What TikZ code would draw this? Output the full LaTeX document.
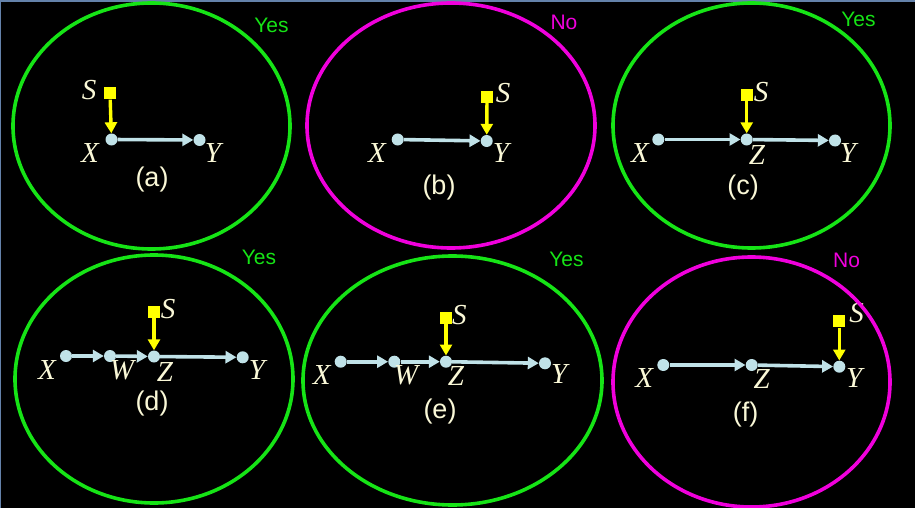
\documentclass[tikz,border=0pt]{standalone}
\usepackage{fontspec}
\setmainfont{Liberation Serif}
\newfontfamily\arialfont{Liberation Sans}
\usetikzlibrary{arrows.meta}
\definecolor{nodeblue}{RGB}{192,226,232}
\definecolor{yel}{RGB}{255,255,0}
\definecolor{cream}{RGB}{250,248,215}
\definecolor{okgreen}{RGB}{22,228,22}
\definecolor{nomag}{RGB}{240,0,220}
\definecolor{framecol}{RGB}{100,130,170}
\tikzset{
  dot/.style={circle, fill=nodeblue, inner sep=0pt, minimum size=12pt},
  sq/.style={rectangle, fill=yel, inner sep=0pt, minimum size=12pt},
  barr/.style={draw=nodeblue, line width=3.6pt, -{Triangle[length=11pt,width=12pt]}},
  yarr/.style={draw=yel, line width=3.4pt, -{Triangle[length=11pt,width=12pt]}},
  var/.style={text=cream, inner sep=0pt, font=\fontsize{29}{32}\selectfont\itshape},
  caplab/.style={text=cream, inner sep=0pt, font=\arialfont\fontsize{27}{31}\selectfont},
  verdict/.style={inner sep=0pt, font=\arialfont\fontsize{21}{25}\selectfont},
  ring/.style={line width=3.6pt},
}
\begin{document}
\begin{tikzpicture}[x=1pt,y=-1pt]
\fill[black] (0,0) rectangle (915,508);
\useasboundingbox (0,0) rectangle (915,508);
\draw[framecol, line width=2pt] (0,508) -- (0,1) -- (915,1);

% (a)
\draw[ring, okgreen] (151.5,126) ellipse [x radius=138.5pt, y radius=123pt];
\node[verdict, text=okgreen] (va) at (271.5,25) {Yes};
\node[dot] (xa) at (111.5,139.5) {};
\node[dot] (ya) at (199.5,140) {};
\node[sq] (sa) at (110,93.5) {};
\draw[barr] (xa) -- (ya);
\draw[yarr] (sa) -- (xa);
\node[var] (lsa) at (89,90) {S};
\node[var] (lxa) at (90,153) {X};
\node[var] (lya) at (213,153) {Y};
\node[caplab] (ca) at (152,180) {(a)};

% (b)
\draw[ring, nomag] (451,125.5) ellipse [x radius=144pt, y radius=122.5pt];
\node[verdict, text=nomag] (vb) at (564,22.5) {No};
\node[dot] (xb) at (397.7,139.5) {};
\node[dot] (yb) at (486.7,141) {};
\node[sq] (sb) at (487,97) {};
\draw[barr] (xb) -- (yb);
\draw[yarr] (sb) -- (yb);
\node[var] (lsb) at (503,93) {S};
\node[var] (lxb) at (377,153) {X};
\node[var] (lyb) at (501,153) {Y};
\node[caplab] (cb) at (439,188) {(b)};

% (c)
\draw[ring, okgreen] (751.5,125.5) ellipse [x radius=138.5pt, y radius=122.5pt];
\node[verdict, text=okgreen] (vc) at (858.5,19) {Yes};
\node[dot] (xc) at (658.3,139.5) {};
\node[dot] (zc) at (746.7,139.5) {};
\node[dot] (yc) at (835,140.5) {};
\node[sq] (sc) at (746.7,95) {};
\draw[barr] (xc) -- (zc);
\draw[barr] (zc) -- (yc);
\draw[yarr] (sc) -- (zc);
\node[var] (lsc) at (761,92) {S};
\node[var] (lxc) at (640,153) {X};
\node[var] (lzc) at (757,155) {Z};
\node[var] (lyc) at (848,153) {Y};
\node[caplab] (cc) at (743,188) {(c)};

% (d)
\draw[ring, okgreen] (154,379) ellipse [x radius=139pt, y radius=124pt];
\node[verdict, text=okgreen] (vd) at (259,257) {Yes};
\node[dot] (xd) at (66,356) {};
\node[dot] (wd) at (110,356) {};
\node[dot] (zd) at (154,356.5) {};
\node[dot] (yd) at (242.7,357.3) {};
\node[sq] (sd) at (154,311.7) {};
\draw[barr] (xd) -- (wd);
\draw[barr] (wd) -- (zd);
\draw[barr] (zd) -- (yd);
\draw[yarr] (sd) -- (zd);
\node[var] (lsd) at (168,309) {S};
\node[var] (lxd) at (47,370) {X};
\node[var] (lwd) at (122,370) {W};
\node[var] (lzd) at (165,372) {Z};
\node[var] (lyd) at (257,370) {Y};
\node[caplab] (cd) at (152,404) {(d)};

% (e)
\draw[ring, okgreen] (452.5,380.5) ellipse [x radius=149.5pt, y radius=124.5pt];
\node[verdict, text=okgreen] (ve) at (566.5,259) {Yes};
\node[dot] (xe) at (340.7,361.7) {};
\node[dot] (we) at (394.3,361.7) {};
\node[dot] (ze) at (446,361.7) {};
\node[dot] (ye) at (545,363.3) {};
\node[sq] (se) at (446,318) {};
\draw[barr] (xe) -- (we);
\draw[barr] (we) -- (ze);
\draw[barr] (ze) -- (ye);
\draw[yarr] (se) -- (ze);
\node[var] (lse) at (459.3,315) {S};
\node[var] (lxe) at (321.7,375) {X};
\node[var] (lwe) at (406,375) {W};
\node[var] (lze) at (456,376) {Z};
\node[var] (lye) at (559.3,374) {Y};
\node[caplab] (ce) at (440,411.7) {(e)};

% (f)
\node[var] (lsf) at (856.7,313.3) {S};
\draw[ring, nomag] (751.5,382) ellipse [x radius=138.5pt, y radius=125pt];
\node[verdict, text=nomag] (vf) at (846.5,260) {No};
\node[dot] (xf) at (663.3,365) {};
\node[dot] (zf) at (751.7,365) {};
\node[dot] (yf) at (839.3,366.7) {};
\node[sq] (sf) at (839.3,321.3) {};
\draw[barr] (xf) -- (zf);
\draw[barr] (zf) -- (yf);
\draw[yarr] (sf) -- (yf);
\node[var] (lxf) at (644.3,378.3) {X};
\node[var] (lzf) at (761.7,379.3) {Z};
\node[var] (lyf) at (854.3,378.3) {Y};
\node[caplab] (cf) at (745.7,415) {(f)};
\end{tikzpicture}
\end{document}
